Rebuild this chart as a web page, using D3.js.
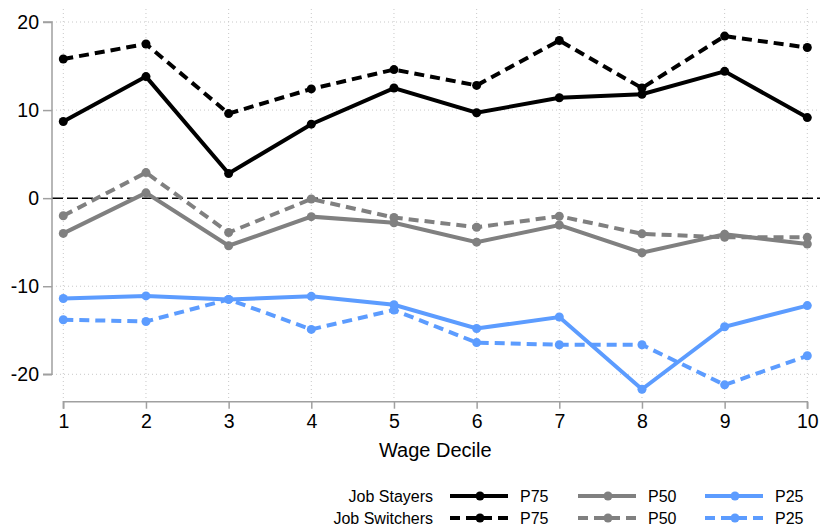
<!DOCTYPE html>
<html>
<head>
<meta charset="utf-8">
<script src="https://cdn.jsdelivr.net/npm/d3@7"></script>
<style>
  body { margin: 0; background: #fff; }
  svg { display: block; font-family: "Liberation Sans", Arial, sans-serif; }
</style>
</head>
<body>
<script>
/*
 * Wage growth percentiles by wage decile, job stayers vs job switchers.
 */

const WIDTH = 822;
const HEIGHT = 527;

// data
const deciles = [1, 2, 3, 4, 5, 6, 7, 8, 9, 10];
const yTicks = [-20, -10, 0, 10, 20];
const stayersP75 = [8.7, 13.8, 2.8, 8.4, 12.5, 9.7, 11.4, 11.8, 14.4, 9.15];
const switchersP75 = [15.8, 17.5, 9.6, 12.4, 14.6, 12.8, 17.9, 12.5, 18.4, 17.1];
const stayersP50 = [-4.0, 0.6, -5.4, -2.1, -2.8, -5.0, -3.05, -6.2, -4.1, -5.2];
const switchersP50 = [-2.0, 2.9, -3.9, -0.1, -2.2, -3.3, -2.05, -4.05, -4.45, -4.45];
const stayersP25 = [-11.4, -11.1, -11.5, -11.15, -12.1, -14.8, -13.5, -21.7, -14.6, -12.2];
const switchersP25 = [-13.8, -14.0, -11.5, -14.9, -12.7, -16.4, -16.65, -16.65, -21.2, -17.9];

const BLACK = '#000000';
const GRAY = '#808080';
const BLUE = '#5c9cff';
const DASH = '10,6';

const series = [
  {values: switchersP25, color: BLUE, dash: DASH},
  {values: stayersP25, color: BLUE, dash: null},
  {values: switchersP50, color: GRAY, dash: DASH},
  {values: stayersP50, color: GRAY, dash: null},
  {values: switchersP75, color: BLACK, dash: DASH},
  {values: stayersP75, color: BLACK, dash: null}
];

const x = d3.scaleLinear().domain([1, 10]).range([63.3, 807.3]);
const y = d3.scaleLinear().domain([-20, 20]).range([374.3, 22]);

const svg = d3.select('body')
  .append('svg')
    .attr('width', WIDTH)
    .attr('height', HEIGHT);

// dotted grid
svg.append('g')
  .selectAll('line')
  .data(yTicks.filter(d => d !== 0))
  .enter()
  .append('line')
    .attr('x1', 52).attr('x2', 818)
    .attr('y1', d => y(d)).attr('y2', d => y(d))
    .attr('stroke', '#c8c8c8')
    .attr('stroke-width', 1)
    .attr('stroke-dasharray', '1,3');

svg.append('g')
  .selectAll('line')
  .data(deciles)
  .enter()
  .append('line')
    .attr('x1', d => x(d)).attr('x2', d => x(d))
    .attr('y1', 9).attr('y2', 398)
    .attr('stroke', '#c8c8c8')
    .attr('stroke-width', 1)
    .attr('stroke-dasharray', '1,3');

// zero reference line
svg.append('line')
    .attr('x1', 52).attr('x2', 820)
    .attr('y1', y(0)).attr('y2', y(0))
    .attr('stroke', '#000')
    .attr('stroke-width', 1.5)
    .attr('stroke-dasharray', '11,4');

// axes (plain hyphen for negatives, as in the original)
const fmt = d => String(d);
const yAxis = svg.append('g')
    .attr('transform', 'translate(52,0)')
    .call(d3.axisLeft(y).tickValues(yTicks).tickSize(9).tickPadding(4).tickFormat(fmt));
const xAxis = svg.append('g')
    .attr('transform', 'translate(0,401.7)')
    .call(d3.axisBottom(x).tickValues(deciles).tickSize(7).tickPadding(5).tickFormat(fmt));

[yAxis, xAxis].forEach(ax => {
  ax.select('.domain').attr('stroke', '#a0a0a0').attr('stroke-width', 1.5);
  ax.selectAll('.tick line').attr('stroke', '#a0a0a0').attr('stroke-width', 1.5);
  ax.selectAll('.tick text')
    .attr('fill', '#000')
    .style('font-size', '19.5px')
    .style('font-family', '"Liberation Sans", Arial, sans-serif');
});
xAxis.select('.domain').attr('d', `M${x(1)},7V0H${x(10)}V7`);
yAxis.select('.domain').attr('d', `M-9,${y(-20)}H0V${y(20)}H-9`);

svg.append('text')
    .attr('x', (x(1) + x(10)) / 2)
    .attr('y', 457)
    .attr('text-anchor', 'middle')
    .style('font-size', '20px')
    .text('Wage Decile');

// series lines and markers
const line = d3.line()
    .x((d, i) => x(deciles[i]))
    .y(d => y(d));

series.forEach(s => {
  const g = svg.append('g');
  g.append('path')
      .datum(s.values)
      .attr('d', line)
      .attr('fill', 'none')
      .attr('stroke', s.color)
      .attr('stroke-width', 4)
      .attr('stroke-dasharray', s.dash);
  g.selectAll('circle')
    .data(s.values)
    .enter()
    .append('circle')
      .attr('cx', (d, i) => x(deciles[i]))
      .attr('cy', d => y(d))
      .attr('r', 4.5)
      .attr('fill', s.color);
});

// legend
const legendRows = [
  {label: 'Job Stayers', dash: null, y: 496},
  {label: 'Job Switchers', dash: DASH, y: 518}
];
const legendCols = [
  {name: 'P75', color: BLACK, x0: 450},
  {name: 'P50', color: GRAY, x0: 578},
  {name: 'P25', color: BLUE, x0: 705}
];

const legend = svg.append('g').attr('id', 'legend');
legendRows.forEach(row => {
  legend.append('text')
      .attr('x', 433)
      .attr('y', row.y + 5.5)
      .attr('text-anchor', 'end')
      .style('font-size', '16px')
      .text(row.label);
  legendCols.forEach(col => {
    legend.append('line')
        .attr('x1', col.x0).attr('x2', col.x0 + 58)
        .attr('y1', row.y).attr('y2', row.y)
        .attr('stroke', col.color)
        .attr('stroke-width', 4)
        .attr('stroke-dasharray', row.dash);
    legend.append('circle')
        .attr('cx', col.x0 + 30)
        .attr('cy', row.y)
        .attr('r', 4.5)
        .attr('fill', col.color);
    legend.append('text')
        .attr('x', col.x0 + 70)
        .attr('y', row.y + 6)
        .style('font-size', '16px')
        .text(col.name);
  });
});
</script>
</body>
</html>
